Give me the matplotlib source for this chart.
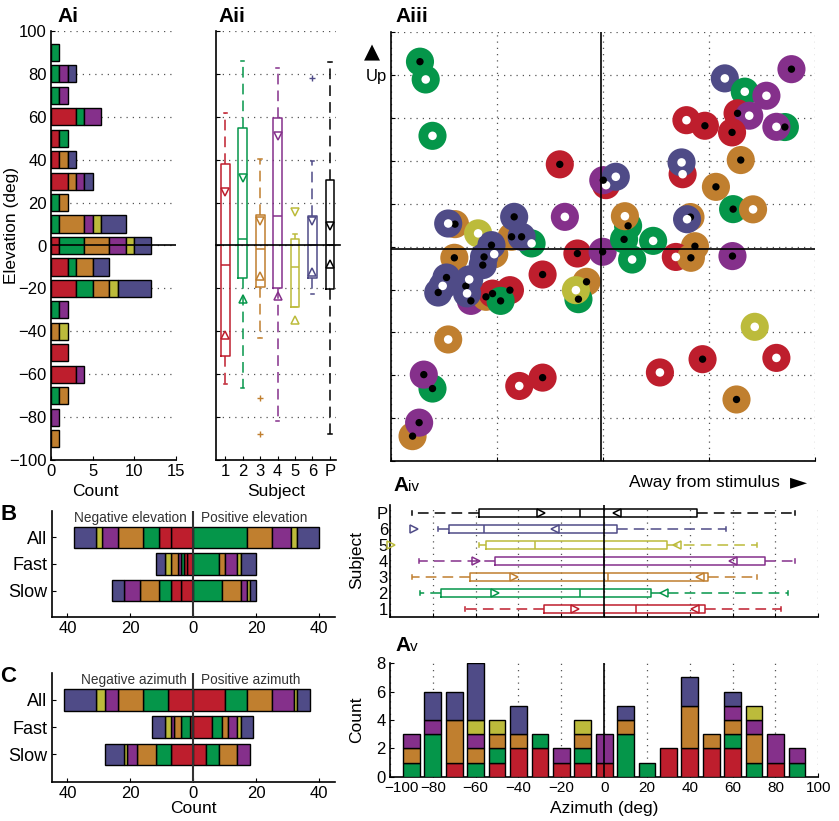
import numpy as np
import matplotlib
matplotlib.use('Agg')
import matplotlib.pyplot as plt
import matplotlib.transforms as mtransforms

plt.rcParams['font.family'] = ['Liberation Sans', 'DejaVu Sans']
plt.rcParams['font.size'] = 12
plt.rcParams['xtick.direction'] = 'in'
plt.rcParams['ytick.direction'] = 'in'
plt.rcParams['xtick.major.size'] = 3
plt.rcParams['ytick.major.size'] = 3
plt.rcParams['xtick.major.pad'] = 3
plt.rcParams['ytick.major.pad'] = 3
plt.rcParams['axes.linewidth'] = 1.2

# ---------------- data ----------------
subject_colors = ['#BE1E2D', '#05964A', '#C07F2F', '#85308B', '#BCBB3B', '#4F4B87']
subject_labels = ['1', '2', '3', '4', '5', '6', 'P']
box_colors = subject_colors + ['#000000']

# Ai: elevation histogram (counts per subject, bins 90 .. -90)
elev_bins = [90, 80, 70, 60, 50, 40, 30, 20, 10, 0, -10, -20, -30, -40, -50, -60, -70, -80, -90]
elev_s1 = [0, 0, 0, 3, 1, 1, 2, 0, 0, 1, 2, 3, 0, 0, 2, 3, 0, 0, 0]
elev_s2 = [1, 1, 1, 1, 1, 0, 0, 1, 1, 3, 1, 2, 1, 0, 0, 0, 1, 0, 0]
elev_s3 = [0, 0, 0, 0, 0, 1, 1, 1, 3, 3, 2, 2, 0, 1, 0, 0, 1, 0, 1]
elev_s4 = [0, 1, 1, 2, 0, 0, 1, 0, 1, 2, 0, 0, 1, 0, 0, 1, 0, 1, 0]
elev_s5 = [0, 0, 0, 0, 0, 0, 0, 0, 1, 1, 0, 1, 0, 1, 0, 0, 0, 0, 0]
elev_s6 = [0, 1, 0, 0, 0, 1, 1, 0, 3, 2, 2, 4, 0, 0, 0, 0, 0, 0, 0]

# Aii: elevation box plots (subjects 1-6, P)
elev_q1 = [-51.6, -15.2, -19.4, -19.8, -28.7, -15.2, -20.2]
elev_med = [-9.3, 3.1, -1.6, 13.6, -9.8, 0.0, 0.0]
elev_q3 = [38.0, 54.6, 14.0, 59.5, 3.1, 13.6, 30.7]
elev_wlo = [-64.7, -66.4, -43.1, -81.9, -28.7, -22.5, -88.0]
elev_whi = [62.0, 86.0, 40.3, 82.6, 5.4, 39.5, 85.7]
elev_nlo = [-41.9, -24.8, -14.4, -23.7, -34.9, -12.4, -8.5]
elev_nhi = [24.8, 31.3, 11.6, 51.2, 15.5, 11.6, 9.0]
elev_out = [[], [], [-71.0, -88.0], [], [], [78.3], []]

# Aiii: individual sites (azimuth, elevation, subject, fast=1 -> black centre)
scat_az = [-86.2, -83.5, -80.3, -20.3, -17.9, -69.7, -72.9, -58.8, -43.0, -33.6,
           -41.8, -38.3, -12.0, -0.1, -70.0, -51.2, -52.5, -56.0, -56.6, -62.2,
           -55.1, -52.0, -43.8, -48.2, -73.7, -75.5, -77.6, -64.6, -63.0, -64.0,
           -28.4, -7.7, -11.5, -12.7, -72.9, -80.3, -84.4, -39.4, -28.4, -89.7,
           -86.6, 88.9, 57.5, 66.9, 77.1, 63.5, 69.0, 39.4, 48.1, 60.9,
           85.8, 81.8, 65.0, 37.6, 37.1, 1.5, 0.2, 6.1, 53.3, 61.4,
           70.8, 11.9, 10.0, 10.4, 23.7, 41.3, 39.7, 43.4, 13.8, 34.4,
           41.5, 61.1, 71.6, 47.0, 81.8, 26.9, 63.0]
scat_el = [86.3, 78.0, 51.7, 38.4, 13.9, 10.5, 10.8, 6.2, 4.6, 1.5,
           13.9, 4.6, -3.2, -2.4, -5.2, -3.5, 0.7, -4.8, -8.6, -25.3,
           -23.4, -21.9, -20.3, -25.3, -14.4, -18.3, -21.4, -18.4, -15.3, -21.8,
           -13.0, -16.4, -24.5, -20.3, -43.3, -66.2, -59.7, -65.0, -61.1, -88.4,
           -82.1, 82.8, 78.5, 72.3, 70.4, 62.2, 61.1, 59.0, 56.4, 53.3,
           55.8, 55.9, 40.4, 33.8, 39.3, 28.7, 31.0, 32.6, 27.9, 17.5,
           17.4, 9.7, 3.4, 14.2, 2.7, 13.8, 12.8, 0.2, -6.0, -4.8,
           -5.2, -4.4, -37.4, -52.5, -51.9, -58.7, -71.3]
scat_subject = [2, 2, 2, 1, 4, 3, 6, 5, 3, 2,
                6, 6, 1, 4, 3, 3, 6, 6, 6, 4,
                3, 1, 1, 2, 6, 6, 6, 6, 6, 6,
                1, 3, 2, 5, 3, 2, 4, 1, 1, 3,
                4, 4, 6, 2, 4, 1, 4, 1, 1, 1,
                2, 4, 3, 1, 6, 1, 4, 6, 3, 2,
                3, 2, 2, 3, 2, 3, 6, 3, 2, 1,
                3, 4, 5, 1, 1, 1, 3]
scat_fast = [1, 0, 0, 1, 0, 1, 0, 0, 1, 0,
             1, 1, 1, 1, 1, 0, 1, 1, 1, 1,
             1, 1, 1, 1, 1, 0, 1, 1, 0, 0,
             1, 1, 1, 0, 0, 1, 1, 0, 1, 1,
             1, 1, 0, 0, 0, 1, 0, 0, 1, 1,
             1, 0, 1, 0, 0, 0, 1, 0, 1, 1,
             0, 1, 1, 0, 0, 1, 0, 1, 0, 0,
             1, 1, 0, 1, 0, 0, 1]

# Aiv: azimuth box plots (subjects 1-6, P)
az_q1 = [-28.2, -76.1, -62.8, -51.1, -55.3, -72.6, -58.5]
az_med = [14.7, -11.4, 1.6, 0.0, -32.4, -56.3, -11.4]
az_q3 = [47.1, 21.7, 48.6, 75.1, 29.5, 6.1, 43.5]
az_wlo = [-65.2, -86.2, -89.6, -86.5, -58.5, -77.6, -89.6]
az_whi = [82.5, 85.7, 71.2, 89.2, 71.6, 56.9, 89.2]
az_nlo = [-13.4, -51.1, -42.2, -60.0, -99.5, -89.0, -29.3]
az_nhi = [42.4, 27.9, 44.7, 60.3, 34.1, -23.1, 6.2]

# Av: azimuth histogram (bins -90 .. 90)
az_bins = [-90, -80, -70, -60, -50, -40, -30, -20, -10, 0, 10, 20, 30, 40, 50, 60, 70, 80, 90]
az_s1 = [0, 0, 1, 0, 1, 2, 2, 1, 1, 1, 0, 0, 2, 2, 2, 2, 0, 1, 0]
az_s2 = [1, 3, 0, 1, 1, 0, 1, 0, 1, 0, 3, 1, 0, 0, 0, 1, 1, 0, 1]
az_s3 = [1, 0, 3, 1, 1, 1, 0, 0, 1, 0, 1, 0, 0, 3, 1, 1, 2, 0, 0]
az_s4 = [1, 1, 0, 1, 0, 0, 0, 1, 0, 2, 0, 0, 0, 0, 0, 1, 1, 2, 1]
az_s5 = [0, 0, 0, 1, 1, 0, 0, 0, 1, 0, 0, 0, 0, 0, 0, 0, 1, 0, 0]
az_s6 = [0, 2, 2, 4, 0, 2, 0, 0, 0, 0, 1, 0, 0, 2, 0, 1, 0, 0, 0]

# B / C: split counts (segments listed from zero outwards)
row_labels = ['All', 'Fast', 'Slow']
B_neg_subj = [[1, 1, 2, 3, 4, 5, 6], [1, 1, 2, 4, 3, 5, 6], [1, 1, 2, 3, 4, 6]]
B_neg_n = [[7, 4, 5, 8, 5, 2, 7], [2, 1, 1, 1, 2, 2, 3], [4, 3, 4, 6, 5, 4]]
B_pos_subj = [[2, 3, 4, 5, 6], [2, 3, 4, 5, 6], [2, 3, 4, 5, 6]]
B_pos_n = [[17, 8, 6, 2, 7], [8, 2, 4, 1, 5], [9, 6, 2, 1, 2]]
C_neg_subj = [[1, 2, 3, 4, 5, 6], [1, 2, 3, 4, 5, 6], [1, 2, 3, 4, 5, 6]]
C_neg_n = [[8, 8, 8, 4, 3, 10], [1, 3, 2, 1, 2, 4], [7, 5, 6, 3, 1, 6]]
C_pos_subj = [[1, 2, 3, 4, 5, 6], [1, 2, 3, 4, 5, 6], [1, 2, 3, 4]]
C_pos_n = [[10, 7, 8, 7, 1, 4], [6, 3, 2, 3, 1, 4], [4, 4, 6, 4]]

# ---------------- figure ----------------
W, H = 839, 821
fig = plt.figure(figsize=(W / 100, H / 100), dpi=100)


def rect(l, t, r, b):
    return [l / W, 1 - b / H, (r - l) / W, (b - t) / H]


def fx(x):
    return x / W


def fy(y):
    return 1 - y / H


GRID = dict(color='#555555', linestyle=(0, (1, 4)), linewidth=0.9)
DASH = (0, (7, 4))


def clean(ax):
    ax.spines['top'].set_visible(False)
    ax.spines['right'].set_visible(False)


def panel_label(x, y, main, sub='', subsize=None, subbold=True, size=15):
    t = fig.text(fx(x), fy(y), main, fontsize=size, fontweight='bold', va='center', ha='left')
    if sub:
        fig.canvas.draw()
        bb = t.get_window_extent()
        fig.text(bb.x1 / W, fy(y) - 0.002, sub,
                 fontsize=subsize or size, fontweight='bold' if subbold else 'normal',
                 va='center', ha='left')


# ---- Ai ----
axAi = fig.add_axes(rect(51, 31, 176, 460))
elev_counts = [elev_s1, elev_s2, elev_s3, elev_s4, elev_s5, elev_s6]
left = np.zeros(len(elev_bins))
for s, cnt in enumerate(elev_counts):
    cnt = np.array(cnt, float)
    m = cnt > 0
    axAi.barh(np.array(elev_bins)[m], cnt[m], height=8, left=left[m],
              color=subject_colors[s], edgecolor='k', linewidth=1.0, zorder=3)
    left += cnt
axAi.axhline(0, color='k', lw=1.2, zorder=5)
axAi.set_xlim(0, 15)
axAi.set_ylim(-100, 100)
axAi.set_yticks(np.arange(-100, 101, 20))
axAi.set_xticks([0, 5, 10, 15])
axAi.yaxis.grid(True, **GRID)
axAi.set_axisbelow(True)
clean(axAi)
fig.text(fx(12), fy(225), 'Elevation (deg)', rotation=90, ha='center', va='center', fontsize=12.5)
fig.text(fx(95), fy(491), 'Count', ha='center', va='center', fontsize=12.5)

# ---- Aii ----
axAii = fig.add_axes(rect(215.7, 31, 336, 460))
for i in range(7):
    c = box_colors[i]
    st = dict(q1=elev_q1[i], med=elev_med[i], q3=elev_q3[i], whislo=elev_wlo[i],
              whishi=elev_whi[i], fliers=elev_out[i])
    axAii.bxp([st], positions=[i + 1], widths=0.5, showfliers=True,
              boxprops=dict(color=c, lw=1.1),
              whiskerprops=dict(color=c, lw=1.1, linestyle=DASH),
              capprops=dict(color=c, lw=1.1), capwidths=0.2,
              medianprops=dict(color=c, lw=1.1),
              flierprops=dict(marker='+', markeredgecolor=c, markersize=5, linestyle='none'))
    axAii.plot([i + 1], [elev_nhi[i]], marker='v', mfc='none', mec=c, ms=6, mew=1.1, zorder=4)
    axAii.plot([i + 1], [elev_nlo[i]], marker='^', mfc='none', mec=c, ms=6, mew=1.1, zorder=4)
axAii.axhline(0, xmin=0, xmax=1.03, color='k', lw=1.2, zorder=5, clip_on=False)
axAii.set_xlim(0.45, 7.35)
axAii.set_ylim(-100, 100)
axAii.set_yticks(np.arange(-100, 101, 20))
axAii.set_yticklabels([])
axAii.set_xticks(range(1, 8))
axAii.set_xticklabels(subject_labels)
axAii.yaxis.grid(True, **GRID)
axAii.set_axisbelow(True)
clean(axAii)
fig.text(fx(276), fy(491), 'Subject', ha='center', va='center', fontsize=12.5)

# ---- Aiii ----
axS = fig.add_axes(rect(390.7, 32.3, 815, 461))
ring_cols = [subject_colors[s - 1] for s in scat_subject]
axS.scatter(scat_az, scat_el, s=410, c=ring_cols, linewidths=0, zorder=3)
cen_cols = ['k' if f else 'w' for f in scat_fast]
cen_size = [28 if f else 38 for f in scat_fast]
axS.scatter(scat_az, scat_el, s=cen_size, c=cen_cols, linewidths=0, zorder=4)
axS.axhline(-1.2, color='k', lw=1.2, zorder=5)
axS.axvline(-1.0, color='k', lw=1.2, zorder=5)
axS.set_xlim(-100, 100)
axS.set_ylim(-100, 100)
axS.set_xticks([-100, -50, 0, 50, 100])
axS.set_xticklabels([])
axS.set_yticks(np.arange(-100, 101, 20))
axS.set_yticklabels(['' if v != 80 else 'Up' for v in np.arange(-100, 101, 20)])
axS.grid(True, **GRID)
axS.set_axisbelow(True)
clean(axS)
fig.text(fx(372), fy(52), '\u25B2', ha='center', va='center', fontsize=15,
         family=['DejaVu Sans'])
fig.text(fx(780), fy(482), 'Away from stimulus', ha='right', va='center', fontsize=12.5)
fig.text(fx(798), fy(482), '\u25BA', ha='center', va='center', fontsize=16,
         family=['DejaVu Sans'])

# ---- Aiv ----
axAiv = fig.add_axes(rect(390, 505, 818.3, 617))
for i in range(7):
    c = box_colors[i]
    st = dict(q1=az_q1[i], med=az_med[i], q3=az_q3[i], whislo=az_wlo[i],
              whishi=az_whi[i], fliers=[])
    axAiv.bxp([st], positions=[i + 1], widths=0.48, orientation='horizontal',
              showfliers=False,
              boxprops=dict(color=c, lw=1.1),
              whiskerprops=dict(color=c, lw=1.1, linestyle=DASH),
              capprops=dict(color=c, lw=1.1), capwidths=0.3,
              medianprops=dict(color=c, lw=1.1))
    axAiv.plot([az_nlo[i]], [i + 1], marker='>', mfc='none', mec=c, ms=5.5, mew=1.1,
               zorder=4, clip_on=False)
    axAiv.plot([az_nhi[i]], [i + 1], marker='<', mfc='none', mec=c, ms=5.5, mew=1.1,
               zorder=4, clip_on=False)
axAiv.axvline(0, color='k', lw=1.2, zorder=5)
axAiv.set_xlim(-100, 100)
axAiv.set_ylim(0.5, 7.5)
axAiv.set_xticks(np.arange(-100, 101, 20))
axAiv.set_xticklabels([])
axAiv.set_yticks(range(1, 8))
axAiv.set_yticklabels(subject_labels)
axAiv.tick_params(axis='y', pad=1.5, length=0)
axAiv.xaxis.grid(True, **GRID)
axAiv.set_axisbelow(True)
clean(axAiv)
fig.text(fx(357), fy(560), 'Subject', rotation=90, ha='center', va='center', fontsize=12.5)

# ---- Av ----
axAv = fig.add_axes(rect(390, 663.3, 818.3, 776.7))
az_counts = [az_s1, az_s2, az_s3, az_s4, az_s5, az_s6]
bottom = np.zeros(len(az_bins))
for s, cnt in enumerate(az_counts):
    cnt = np.array(cnt, float)
    m = cnt > 0
    axAv.bar(np.array(az_bins)[m], cnt[m], width=7.8, bottom=bottom[m],
             color=subject_colors[s], edgecolor='k', linewidth=1.0, zorder=3)
    bottom += cnt
axAv.axvline(0, color='k', lw=1.2, zorder=5)
axAv.set_xlim(-100, 100)
axAv.set_ylim(0, 8)
axAv.set_xticks(np.arange(-100, 101, 20))
axAv.set_yticks([0, 2, 4, 6, 8])
axAv.tick_params(axis='x', labelsize=11)
axAv.xaxis.grid(True, **GRID)
axAv.set_axisbelow(True)
clean(axAv)
first = axAv.get_xticklabels()[0]
first.set_horizontalalignment('left')
first.set_transform(first.get_transform() +
                    mtransforms.ScaledTranslation(-6 / 100, 0, fig.dpi_scale_trans))
fig.text(fx(357), fy(720), 'Count', rotation=90, ha='center', va='center', fontsize=12.5)
fig.text(fx(604), fy(808), 'Azimuth (deg)', ha='center', va='center', fontsize=12.5)


# ---- B and C ----
def split_panel(ax, neg_subj, neg_n, pos_subj, pos_n, ltxt, rtxt):
    ypos = [3, 2, 1]
    for r in range(3):
        for sign, subj, nn in ((-1, neg_subj[r], neg_n[r]), (1, pos_subj[r], pos_n[r])):
            start = 0.0
            for s, n in zip(subj, nn):
                ax.barh(ypos[r], sign * n, left=start, height=0.8,
                        color=subject_colors[s - 1], edgecolor='k', linewidth=1.0, zorder=3)
                start += sign * n
    ax.axvline(0, color='#333333', lw=1.5, zorder=5)
    ax.set_xlim(-45, 45)
    ax.set_ylim(0, 4)
    ax.set_xticks([-40, -20, 0, 20, 40])
    ax.set_xticklabels(['40', '20', '0', '20', '40'])
    ax.set_yticks(ypos)
    ax.set_yticklabels(row_labels, fontsize=13)
    ax.text(-2.0, 3.72, ltxt, ha='right', va='center', fontsize=9.8, color='#333333')
    ax.text(2.5, 3.72, rtxt, ha='left', va='center', fontsize=9.8, color='#333333')
    clean(ax)


axB = fig.add_axes(rect(51.7, 510.7, 335, 617.3))
split_panel(axB, B_neg_subj, B_neg_n, B_pos_subj, B_pos_n,
            'Negative elevation', 'Positive elevation')
axC = fig.add_axes(rect(51.7, 672.7, 335, 781.7))
split_panel(axC, C_neg_subj, C_neg_n, C_pos_subj, C_pos_n,
            'Negative azimuth', 'Positive azimuth')
fig.text(fx(193), fy(808), 'Count', ha='center', va='center', fontsize=12.5)

# ---- panel labels ----
panel_label(57, 16, 'Ai')
panel_label(218, 16, 'Aii')
panel_label(395, 16, 'Aiii')
panel_label(393, 485, 'A', 'iv', subsize=11, subbold=False)
panel_label(395, 645, 'A', 'v', subsize=11, subbold=False)
panel_label(0, 515, 'B', size=16)
panel_label(0, 677, 'C', size=16)

fig.savefig('out.png', dpi=100)
